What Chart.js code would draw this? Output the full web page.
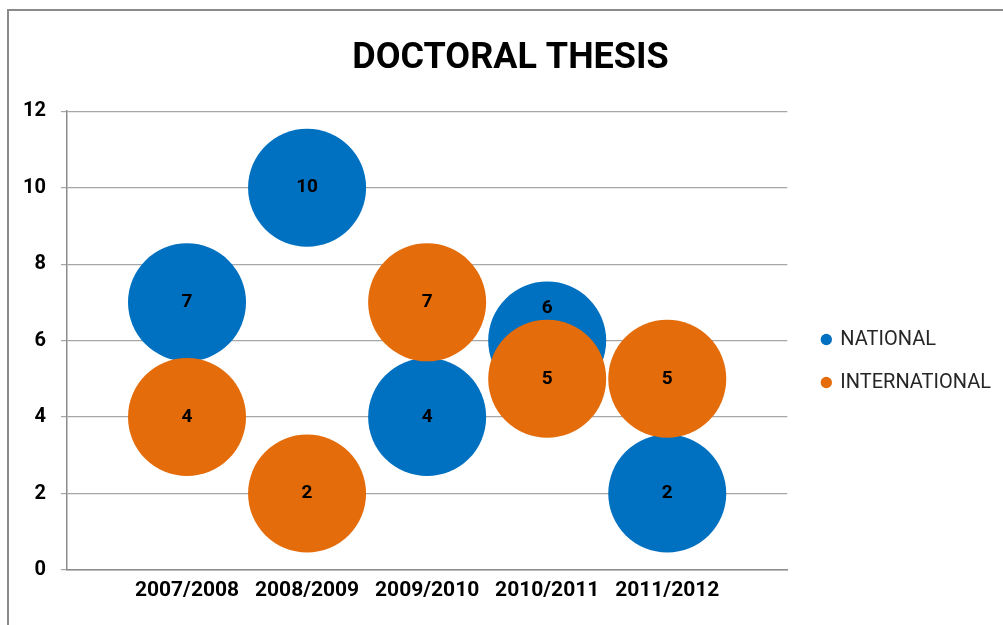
<!DOCTYPE html>
<html lang="en">
<head>
  <meta charset="UTF-8">
  <title>Doctoral Thesis</title>
  <style>
    html, body { margin: 0; padding: 0; background: #fff; overflow: hidden; }
    #wrap { position: relative; width: 1003px; height: 625px; overflow: hidden; }
    #frame {
      position: absolute; left: 7px; top: 9px; width: 1100px; height: 700px;
      border: 2px solid #8a8a8a; box-sizing: border-box;
    }
    /* canvas runs a few px past the bottom edge: bubble overflow padding would otherwise lift the x axis */
    #chart { position: absolute; left: 0; top: 0; }
  </style>
</head>
<body>
  <div id="wrap">
    <div id="frame"></div>
    <canvas id="chart" width="1003" height="629"></canvas>
  </div>

  <script src="https://cdn.jsdelivr.net/npm/chart.js"></script>
  <script>
    // data
    const years = ['2007/2008', '2008/2009', '2009/2010', '2010/2011', '2011/2012'];
    const national = [7, 10, 4, 6, 2];
    const international = [4, 2, 7, 5, 5];
    const yTicks = [0, 2, 4, 6, 8, 10, 12];

    const toPoints = arr => arr.map((v, i) => ({ x: i + 1, y: v }));
    const font = "Roboto, 'Open Sans', sans-serif";

    // writes the value in the middle of each bubble
    const bubbleLabels = {
      id: 'bubbleLabels',
      afterDatasetsDraw(chart) {
        const ctx = chart.ctx;
        ctx.save();
        ctx.fillStyle = '#000';
        ctx.font = 'bold 19px ' + font;
        ctx.textAlign = 'center';
        ctx.textBaseline = 'middle';
        chart.data.datasets.forEach((ds, di) => {
          const meta = chart.getDatasetMeta(di);
          const shift = ds.labelShift || {};
          meta.data.forEach((pt, i) => {
            ctx.fillText(String(ds.data[i].y), pt.x, pt.y + (shift[i] || 0));
          });
        });
        ctx.restore();
      }
    };

    // legend and title sit a bit off from where chart.js puts them
    const boxNudge = {
      id: 'boxNudge',
      afterLayout(chart) {
        const lg = chart.legend;
        lg.left += 12; lg.right += 12;
        lg.top += 38; lg.bottom += 38;
        const tb = chart.titleBlock;
        tb.left += 12; tb.right += 12;
      }
    };

    new Chart(document.getElementById('chart'), {
      type: 'bubble',
      data: {
        datasets: [{
          label: 'NATIONAL',
          data: toPoints(national),
          backgroundColor: '#0070C0',
          borderColor: '#0070C0',
          borderWidth: 0,
          radius: 59,
          hoverRadius: 0,
          order: 1,
          labelShift: { 3: -32 }
        }, {
          label: 'INTERNATIONAL',
          data: toPoints(international),
          backgroundColor: '#E46C0A',
          borderColor: '#E46C0A',
          borderWidth: 0,
          radius: 59,
          hoverRadius: 0,
          order: 0
        }]
      },
      options: {
        responsive: false,
        animation: false,
        events: [],
        layout: { padding: { left: 8, right: 14, top: 20, bottom: 3 } },
        plugins: {
          title: {
            display: true,
            text: 'DOCTORAL THESIS',
            color: '#000',
            font: { family: font, size: 36, weight: 'bold' },
            padding: { top: 17, bottom: 31 }
          },
          legend: {
            position: 'right',
            align: 'center',
            labels: {
              usePointStyle: true,
              pointStyle: 'circle',
              boxWidth: 8,
              boxHeight: 8,
              padding: 23,
              color: '#262626',
              font: { family: font, size: 20 },
              sort: (a, b) => a.datasetIndex - b.datasetIndex
            }
          },
          tooltip: { enabled: false }
        },
        scales: {
          x: {
            type: 'linear',
            min: 0,
            max: 6,
            afterBuildTicks: axis => { axis.ticks = years.map((_, i) => ({ value: i + 1 })); },
            ticks: {
              color: '#000',
              padding: 8,
              font: { family: font, size: 21, weight: 'bold' },
              callback: v => years[v - 1]
            },
            grid: { display: false, drawTicks: false },
            border: { display: true, color: '#8c8c8c', width: 1.5 }
          },
          y: {
            min: 0,
            max: 12,
            afterBuildTicks: axis => { axis.ticks = yTicks.map(v => ({ value: v })); },
            ticks: {
              color: '#000',
              padding: 15,
              font: { family: font, size: 20, weight: 'bold' }
            },
            grid: { color: '#a6a6a6', lineWidth: 1.2, tickLength: 6 },
            border: { display: true, color: '#8c8c8c', width: 1.5 }
          }
        }
      },
      plugins: [bubbleLabels, boxNudge]
    });
  </script>
</body>
</html>
